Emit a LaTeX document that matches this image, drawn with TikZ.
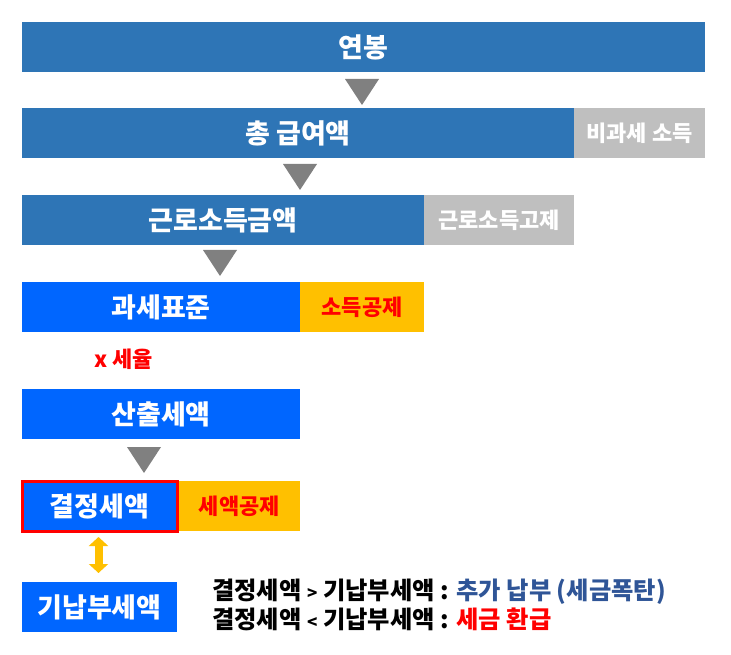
\documentclass[tikz,border=0pt]{standalone}
\usepackage{fontspec}
\setmainfont{Noto Sans CJK KR}
\usetikzlibrary{arrows.meta,calc}
\definecolor{salaryblue}{HTML}{2E75B6}
\definecolor{taxblue}{HTML}{0066FF}
\definecolor{exemptgrey}{HTML}{BFBFBF}
\definecolor{deductyellow}{HTML}{FFC000}
\definecolor{triangrey}{HTML}{808080}
\definecolor{notedarkblue}{HTML}{2F5597}
\tikzset{
  bar/.style={rectangle, inner sep=0pt, outer sep=0pt, minimum height=\barheight, anchor=north west,
    text=white, font=\bfseries\fontsize{27}{27}\selectfont},
  salarybar/.style={bar, fill=salaryblue},
  taxbar/.style={bar, fill=taxblue},
  exemptbox/.style={bar, fill=exemptgrey, font=\bfseries\fontsize{22}{22}\selectfont},
  deductbox/.style={bar, fill=deductyellow, text=red, font=\bfseries\fontsize{22}{22}\selectfont},
  note/.style={anchor=west, inner sep=0pt, font=\bfseries\fontsize{24.3}{24.3}\selectfont}
}
\def\barheight{50pt}
\newcommand{\cmpsign}[1]{{\fontsize{17}{17}\selectfont#1}}
\begin{document}
\begin{tikzpicture}[x=1pt, y=-1pt]
  \useasboundingbox[fill=white] (0,0) rectangle (731,655);

  % Salary bars
  \node[salarybar, minimum width=683pt] (salary) at (22,22) {연봉};
  \node[salarybar, minimum width=552pt] (gross) at (22,108) {총 급여액};
  \node[exemptbox, minimum width=131pt, anchor=north west] (nontax) at (gross.north east) {비과세 소득};
  \node[salarybar, minimum width=402pt] (earned) at (22,195) {근로소득금액};
  \node[exemptbox, minimum width=150pt, anchor=north west] (earnded) at (earned.north east) {근로소득고제};

  % Tax bars
  \node[taxbar, minimum width=278pt] (base) at (22,282) {과세표준};
  \node[deductbox, minimum width=124pt, anchor=north west] (incded) at (base.north east) {소득공제};
  \node[anchor=west, inner sep=0pt, text=red, font=\bfseries\fontsize{22}{22}\selectfont] (rate) at (94,359) {x 세율};
  \node[taxbar, minimum width=278pt] (computed) at (22,389) {산출세액};
  \node[taxbar, minimum width=155pt, draw=red, line width=3pt] (decided) at (22,481) {결정세액};
  \node[deductbox, minimum width=121.5pt, anchor=north west] (taxded) at ([xshift=1.5pt]decided.north east) {세액공제};
  \node[taxbar, minimum width=155pt] (prepaid) at (22,582) {기납부세액};

  % Down triangles between steps
  \foreach \cx/\ty in {362/79, 300/164, 220/250, 144/447} {
    \fill[triangrey] (\cx-17,\ty) -- (\cx+17,\ty) -- (\cx,\ty+26) -- cycle;
  }

  % Compare decided and prepaid tax
  \draw[deductyellow, line width=8pt, shorten <=6pt, shorten >=9pt,
    {Triangle[width=19pt, length=9pt]}-{Triangle[width=19pt, length=9pt]}]
    ([xshift=-1pt]decided.south) -- ([xshift=-1pt]prepaid.north);

  % Notes
  \node[note] (more) at (212,592) {결정세액 \cmpsign{>} 기납부세액 : \textcolor{notedarkblue}{추가 납부 (세금폭탄)}};
  \node[note] (less) at (212,619) {결정세액 \cmpsign{<} 기납부세액 : \textcolor{red}{세금 환급}};
\end{tikzpicture}
\end{document}
